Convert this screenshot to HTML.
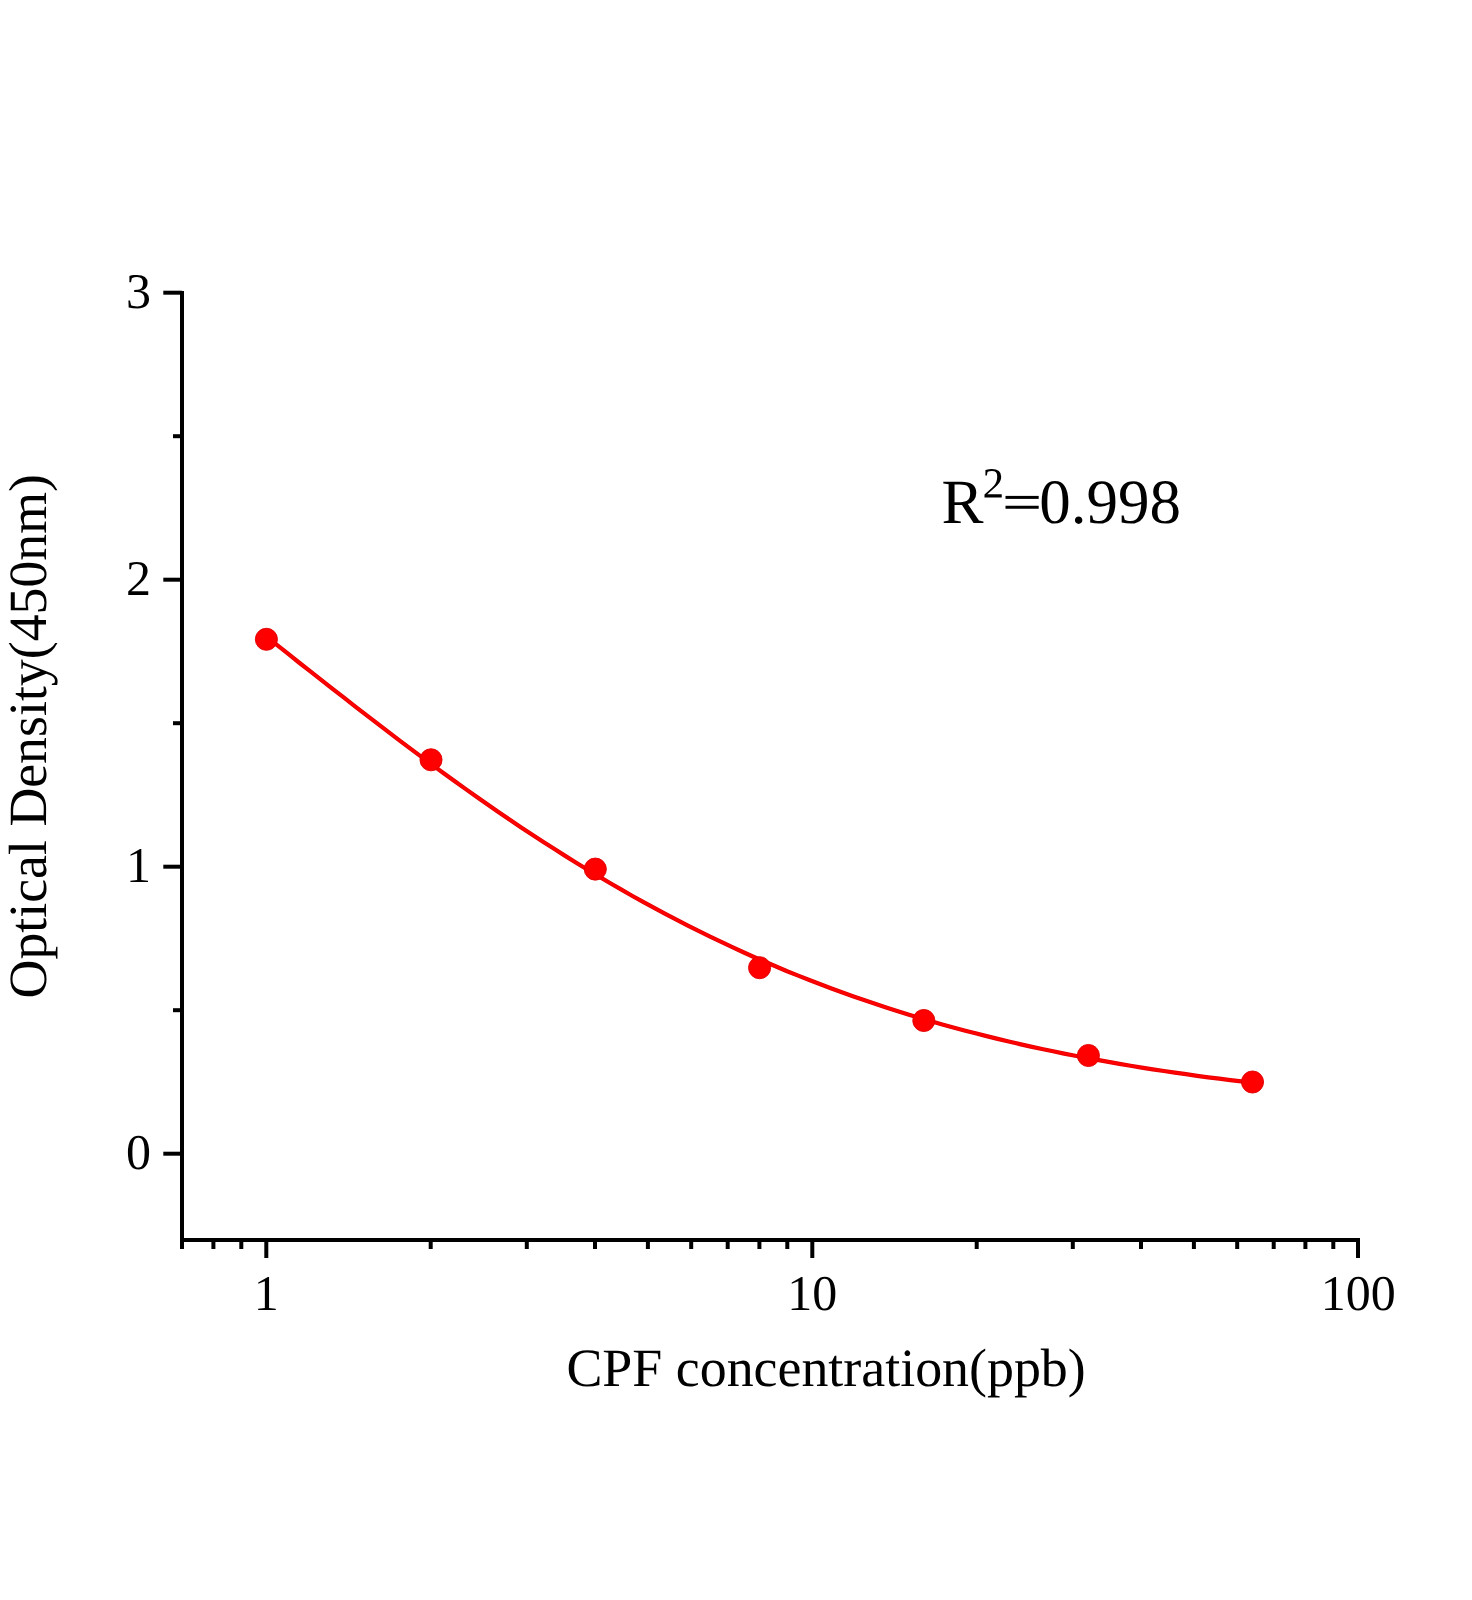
<!DOCTYPE html>
<html><head><meta charset="utf-8"><title>CPF standard curve</title>
<style>
html,body{margin:0;padding:0;background:#fff;}
body{width:1472px;height:1600px;overflow:hidden;font-family:"Liberation Serif",serif;}
svg{display:block;}
</style></head>
<body>
<svg width="1472" height="1600" viewBox="0 0 1472 1600">
<rect width="1472" height="1600" fill="#ffffff"/>
<g stroke="#000" stroke-width="4" fill="none" stroke-linecap="butt">
<path d="M182.0,291 V1242.0"/>
<path d="M180.0,1240.0 H1360"/>
<path d="M163.3,1153.7 H182.0"/>
<path d="M163.3,866.7 H182.0"/>
<path d="M163.3,579.7 H182.0"/>
<path d="M163.3,292.7 H182.0"/>
<path d="M173,1010.2 H182.0"/>
<path d="M173,723.2 H182.0"/>
<path d="M173,436.2 H182.0"/>
<path d="M266.3,1240.0 V1258"/>
<path d="M812.3,1240.0 V1258"/>
<path d="M1358.0,1240.0 V1258"/>
<path d="M182.0,1240.0 V1249"/>
<path d="M213.4,1240.0 V1249"/>
<path d="M241.3,1240.0 V1249"/>
<path d="M430.7,1240.0 V1249"/>
<path d="M526.8,1240.0 V1249"/>
<path d="M595.0,1240.0 V1249"/>
<path d="M647.9,1240.0 V1249"/>
<path d="M691.2,1240.0 V1249"/>
<path d="M727.7,1240.0 V1249"/>
<path d="M759.4,1240.0 V1249"/>
<path d="M787.3,1240.0 V1249"/>
<path d="M976.7,1240.0 V1249"/>
<path d="M1072.8,1240.0 V1249"/>
<path d="M1141.0,1240.0 V1249"/>
<path d="M1193.9,1240.0 V1249"/>
<path d="M1237.2,1240.0 V1249"/>
<path d="M1273.7,1240.0 V1249"/>
<path d="M1305.4,1240.0 V1249"/>
<path d="M1333.3,1240.0 V1249"/>
</g>
<path d="M266.4,636.7 L277.5,645.4 L288.6,654.2 L299.6,663.0 L310.7,671.7 L321.8,680.4 L332.9,689.1 L344.0,697.7 L355.0,706.3 L366.1,714.9 L377.2,723.4 L388.3,731.9 L399.4,740.3 L410.4,748.6 L421.5,756.9 L432.6,765.1 L443.7,773.2 L454.8,781.2 L465.8,789.1 L476.9,797.0 L488.0,804.7 L499.1,812.4 L510.2,819.9 L521.2,827.4 L532.3,834.7 L543.4,842.0 L554.5,849.1 L565.6,856.1 L576.6,863.0 L587.7,869.8 L598.8,876.4 L609.9,883.0 L621.0,889.4 L632.0,895.7 L643.1,901.9 L654.2,907.9 L665.3,913.9 L676.4,919.7 L687.4,925.4 L698.5,930.9 L709.6,936.4 L720.7,941.7 L731.8,946.9 L742.8,952.0 L753.9,957.0 L765.0,961.8 L776.1,966.5 L787.1,971.2 L798.2,975.6 L809.3,980.0 L820.4,984.3 L831.5,988.5 L842.5,992.5 L853.6,996.5 L864.7,1000.3 L875.8,1004.1 L886.9,1007.7 L897.9,1011.2 L909.0,1014.7 L920.1,1018.0 L931.2,1021.3 L942.3,1024.4 L953.3,1027.5 L964.4,1030.5 L975.5,1033.3 L986.6,1036.1 L997.7,1038.9 L1008.7,1041.5 L1019.8,1044.1 L1030.9,1046.6 L1042.0,1049.0 L1053.1,1051.3 L1064.1,1053.6 L1075.2,1055.8 L1086.3,1057.9 L1097.4,1059.9 L1108.5,1061.9 L1119.5,1063.9 L1130.6,1065.7 L1141.7,1067.6 L1152.8,1069.3 L1163.9,1071.0 L1174.9,1072.6 L1186.0,1074.2 L1197.1,1075.8 L1208.2,1077.3 L1219.3,1078.7 L1230.3,1080.1 L1241.4,1081.4 L1252.5,1082.8" stroke="#e60000" stroke-width="4.2" fill="none" stroke-linejoin="round"/>
<path d="M266.4,636.7 L277.5,645.4 L288.6,654.2 L299.6,663.0 L310.7,671.7 L321.8,680.4 L332.9,689.1 L344.0,697.7 L355.0,706.3 L366.1,714.9 L377.2,723.4 L388.3,731.9 L399.4,740.3 L410.4,748.6 L421.5,756.9 L432.6,765.1 L443.7,773.2 L454.8,781.2 L465.8,789.1 L476.9,797.0 L488.0,804.7 L499.1,812.4 L510.2,819.9 L521.2,827.4 L532.3,834.7 L543.4,842.0 L554.5,849.1 L565.6,856.1 L576.6,863.0 L587.7,869.8 L598.8,876.4 L609.9,883.0 L621.0,889.4 L632.0,895.7 L643.1,901.9 L654.2,907.9 L665.3,913.9 L676.4,919.7 L687.4,925.4 L698.5,930.9 L709.6,936.4 L720.7,941.7 L731.8,946.9 L742.8,952.0 L753.9,957.0 L765.0,961.8 L776.1,966.5 L787.1,971.2 L798.2,975.6 L809.3,980.0 L820.4,984.3 L831.5,988.5 L842.5,992.5 L853.6,996.5 L864.7,1000.3 L875.8,1004.1 L886.9,1007.7 L897.9,1011.2 L909.0,1014.7 L920.1,1018.0 L931.2,1021.3 L942.3,1024.4 L953.3,1027.5 L964.4,1030.5 L975.5,1033.3 L986.6,1036.1 L997.7,1038.9 L1008.7,1041.5 L1019.8,1044.1 L1030.9,1046.6 L1042.0,1049.0 L1053.1,1051.3 L1064.1,1053.6 L1075.2,1055.8 L1086.3,1057.9 L1097.4,1059.9 L1108.5,1061.9 L1119.5,1063.9 L1130.6,1065.7 L1141.7,1067.6 L1152.8,1069.3 L1163.9,1071.0 L1174.9,1072.6 L1186.0,1074.2 L1197.1,1075.8 L1208.2,1077.3 L1219.3,1078.7 L1230.3,1080.1 L1241.4,1081.4 L1252.5,1082.8" stroke="#ff0000" stroke-width="2.6" fill="none" stroke-linejoin="round"/>
<circle cx="266.4" cy="639.3" r="11.05" fill="#ff0000" stroke="#e00000" stroke-width="0.9"/>
<circle cx="431.0" cy="759.8" r="11.05" fill="#ff0000" stroke="#e00000" stroke-width="0.9"/>
<circle cx="595.3" cy="869.1" r="11.05" fill="#ff0000" stroke="#e00000" stroke-width="0.9"/>
<circle cx="759.6" cy="967.7" r="11.05" fill="#ff0000" stroke="#e00000" stroke-width="0.9"/>
<circle cx="923.8" cy="1020.5" r="11.05" fill="#ff0000" stroke="#e00000" stroke-width="0.9"/>
<circle cx="1088.4" cy="1055.5" r="11.05" fill="#ff0000" stroke="#e00000" stroke-width="0.9"/>
<circle cx="1252.5" cy="1082.0" r="11.05" fill="#ff0000" stroke="#e00000" stroke-width="0.9"/>
<g font-family="'Liberation Serif', serif" fill="#000" text-rendering="geometricPrecision">
<text x="151" y="1169.0" font-size="50" text-anchor="end">0</text>
<text x="151" y="882.0" font-size="50" text-anchor="end">1</text>
<text x="151" y="595.0" font-size="50" text-anchor="end">2</text>
<text x="151" y="308.0" font-size="50" text-anchor="end">3</text>
<text x="266.3" y="1310" font-size="50" text-anchor="middle">1</text>
<text x="812.3" y="1310" font-size="50" text-anchor="middle">10</text>
<text x="1358.3" y="1310" font-size="50" text-anchor="middle">100</text>
<text x="826.1" y="1386" font-size="53.9" text-anchor="middle">CPF concentration(ppb)</text>
<text transform="translate(45.7,736.2) rotate(-90)" font-size="53.8" text-anchor="middle">Optical Density(450nm)</text>
<text x="941.4" y="523.3" font-size="63">R</text>
<path transform="translate(982.6,497.6) scale(0.021,-0.021)" d="M911 0H90V147L276 316Q455 473 539 570Q623 667 659.5 770Q696 873 696 1006Q696 1136 637 1204Q578 1272 444 1272Q391 1272 335 1257.5Q279 1243 236 1219L201 1055H135V1313Q317 1356 444 1356Q664 1356 774.5 1264.5Q885 1173 885 1006Q885 894 841.5 794.5Q798 695 708 596.5Q618 498 410 321Q321 245 221 154H911Z"/>
<rect x="1005.5" y="495.9" width="33.2" height="3"/><rect x="1005.5" y="505.75" width="33.2" height="3"/>
<text x="1039.3" y="523.3" font-size="63">0.998</text>
</g>
</svg>
</body></html>
